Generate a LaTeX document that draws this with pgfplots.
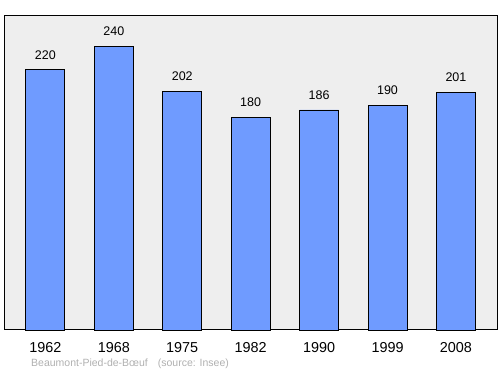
\documentclass[border=0pt]{standalone}
\usepackage{pgfplots}
\pgfplotsset{compat=1.18}
\usepackage{fontspec}
\setmainfont{Liberation Sans}
\definecolor{bgc}{HTML}{EEEEEE}
\definecolor{barc}{HTML}{6F9BFF}
\definecolor{srcc}{HTML}{B0B0B0}
\begin{document}
\begin{tikzpicture}
\begin{axis}[
  name=ax,
  scale only axis,
  width=492pt, height=314pt,
  xmin=-0.59, xmax=6.6,
  ymin=0, ymax=265.4,
  axis background/.style={fill=bgc},
  axis line style={black, line width=1pt},
  ytick=\empty,
  xtick=data,
  xticklabels={1962,1968,1975,1982,1990,1999,2008},
  xticklabel style={font=\fontsize{14.4pt}{17pt}\selectfont, yshift=-9pt},
  major tick length=0pt,
  /pgf/number format/assume math mode=true,
  nodes near coords,
  every node near coord/.append style={font=\fontsize{12.5pt}{14pt}\selectfont, yshift=6.5pt, black},
  clip=false,
]
\addplot[ybar, bar width=39pt, fill=barc, draw=black, line width=0.8pt] coordinates {
  (0,220) (1,240) (2,202) (3,180) (4,186) (5,190) (6,201)
};
\end{axis}
\node[anchor=base west, text=srcc, font=\fontsize{10.5pt}{12pt}\selectfont, inner sep=0pt] at ([shift={(26pt,-37pt)}]ax.south west) {Beaumont-Pied-de-Bœuf\hspace{10pt}(source: Insee)};
\pgfresetboundingbox
\path[use as bounding box] ([shift={(-5pt,-44pt)}]ax.south west) rectangle ([shift={(3pt,16pt)}]ax.north east);
\end{tikzpicture}
\end{document}
